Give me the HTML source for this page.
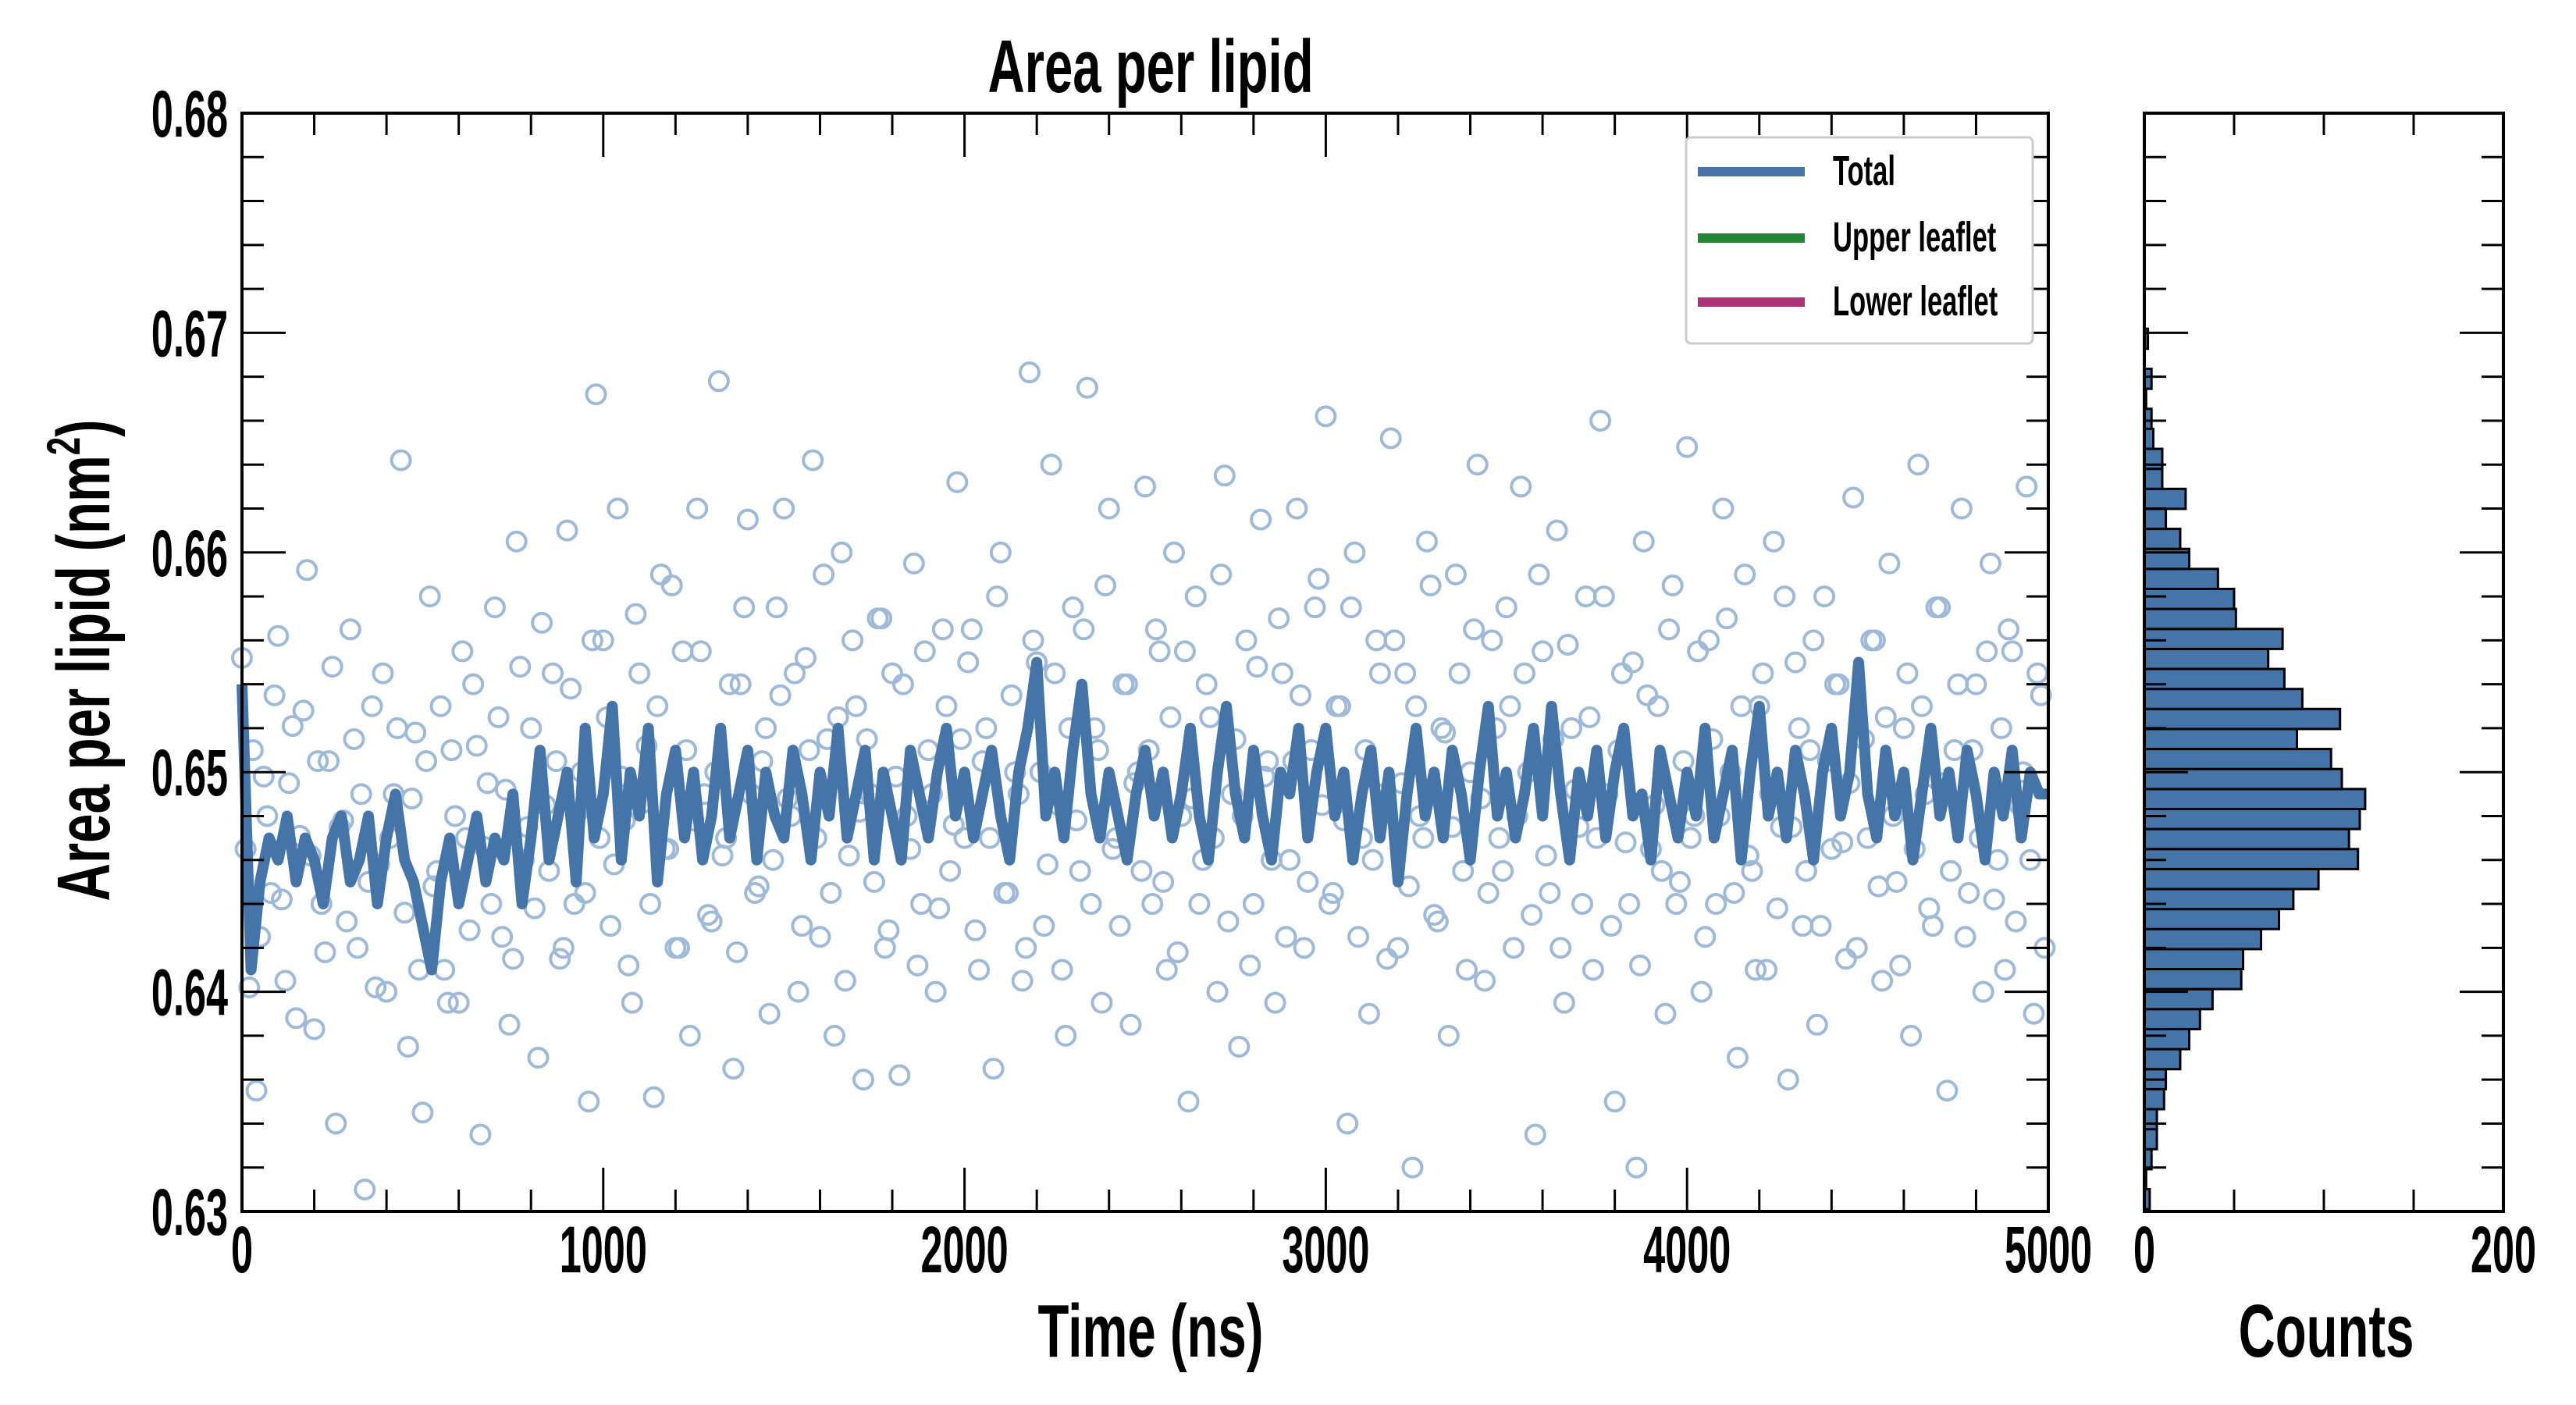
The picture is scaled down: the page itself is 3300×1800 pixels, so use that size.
<!DOCTYPE html>
<html><head><meta charset="utf-8">
<style>
html,body{margin:0;padding:0;background:#fff;}
svg{display:block;}
text{font-family:"Liberation Sans",sans-serif;font-weight:bold;fill:#000;}
</style></head>
<body>
<svg id="chart" width="3300" height="1800" viewBox="0 0 3300 1800" xmlns="http://www.w3.org/2000/svg">
<rect x="0" y="0" width="3300" height="1800" fill="#fff"/>
<g id="scatter"></g>
<g id="lines"></g>
<g id="hist"></g>
<g id="axes"></g>
<g id="legend">
  <rect x="2160" y="176" width="444" height="264" fill="#fff" stroke="#ccc" stroke-width="3" rx="6"/>
  <line x1="2175" y1="220" x2="2312" y2="220" stroke="#4474a8" stroke-width="12"/>
  <text transform="translate(2348,237) scale(0.64,1)" font-size="54">Total</text>
  <line x1="2175" y1="305" x2="2312" y2="305" stroke="#228833" stroke-width="12"/>
  <text transform="translate(2348,322) scale(0.64,1)" font-size="54">Upper leaflet</text>
  <line x1="2175" y1="387" x2="2312" y2="387" stroke="#aa3377" stroke-width="12"/>
  <text transform="translate(2348,404) scale(0.64,1)" font-size="54">Lower leaflet</text>
</g>
<text transform="translate(1474,118) scale(0.68,1)" text-anchor="middle" font-size="96">Area per lipid</text>
<text transform="translate(1474,1738) scale(0.68,1)" text-anchor="middle" font-size="96">Time (ns)</text>
<text transform="translate(2980,1738) scale(0.68,1)" text-anchor="middle" font-size="96">Counts</text>
<text transform="translate(140,846) rotate(-90) scale(0.70,1)" text-anchor="middle" font-size="96">Area per lipid (nm<tspan font-size="60" dy="-38">2</tspan><tspan dy="38">)</tspan></text>
</svg>
<script>
const xTicks=[0,1000,2000,3000,4000,5000];
const yTicks=[0.63,0.64,0.65,0.66,0.67,0.68];
const yTickLabels=["0.63","0.64","0.65","0.66","0.67","0.68"];
const histTicks=[0,200];
const lineStep=25;
const lineValues=[0.654,0.641,0.645,0.647,0.646,0.648,0.645,0.647,0.646,0.644,0.647,0.648,0.645,0.646,0.648,0.644,0.647,0.649,0.646,0.645,
0.643,0.641,0.645,0.647,0.644,0.646,0.648,0.645,0.647,0.646,0.649,0.644,0.647,0.651,0.646,0.648,0.650,0.645,0.652,0.647,
0.649,0.653,0.646,0.650,0.648,0.652,0.645,0.649,0.651,0.647,0.650,0.646,0.648,0.652,0.647,0.649,0.651,0.646,0.650,0.648,
0.647,0.651,0.649,0.646,0.650,0.648,0.652,0.647,0.649,0.651,0.646,0.650,0.648,0.646,0.651,0.649,0.647,0.650,0.652,0.648,
0.650,0.647,0.649,0.651,0.648,0.646,0.650,0.652,0.655,0.648,0.650,0.647,0.651,0.654,0.649,0.647,0.650,0.648,0.646,0.649,
0.651,0.648,0.650,0.647,0.649,0.652,0.648,0.646,0.650,0.653,0.649,0.647,0.651,0.648,0.646,0.650,0.649,0.652,0.647,0.650,
0.652,0.648,0.650,0.646,0.649,0.651,0.647,0.650,0.645,0.649,0.652,0.648,0.650,0.647,0.651,0.649,0.646,0.650,0.653,0.648,
0.650,0.647,0.649,0.652,0.648,0.653,0.649,0.646,0.650,0.648,0.651,0.647,0.650,0.652,0.648,0.649,0.646,0.651,0.649,0.647,
0.650,0.648,0.652,0.647,0.649,0.651,0.646,0.650,0.653,0.648,0.650,0.647,0.651,0.649,0.646,0.650,0.652,0.648,0.650,0.655,
0.649,0.647,0.651,0.648,0.650,0.646,0.649,0.652,0.648,0.650,0.647,0.651,0.649,0.646,0.650,0.648,0.651,0.647,0.650,0.649,0.649];
const scatterStep=20;
const scatterValues=[.6552,.6402,.6355,.6498,.6445,.6562,.6405,.6521,.6471,.6592,.6383,.6440,.6505,.6340,.6478,.6565,.6420,.6310,.6530,.6458,.6400,.6490,.6642,.6375,.6518,
.6345,.6580,.6455,.6410,.6510,.6395,.6470,.6540,.6335,.6495,.6575,.6425,.6385,.6605,.6460,.6520,.6370,.6485,.6545,.6415,.6610,.6440,.6500,.6350,.6672,
.6560,.6430,.6620,.6478,.6395,.6545,.6512,.6352,.6590,.6465,.6420,.6555,.6380,.6620,.6490,.6432,.6678,.6470,.6365,.6540,.6615,.6445,.6505,.6390,.6575,
.6620,.6480,.6400,.6552,.6642,.6425,.6515,.6380,.6600,.6462,.6530,.6360,.6490,.6570,.6420,.6545,.6362,.6480,.6595,.6440,.6510,.6400,.6565,.6455,.6632,
.6470,.6565,.6410,.6520,.6365,.6600,.6445,.6500,.6405,.6682,.6550,.6430,.6640,.6485,.6380,.6575,.6455,.6675,.6520,.6395,.6620,.6470,.6540,.6385,.6500,
.6630,.6440,.6555,.6410,.6600,.6480,.6350,.6580,.6460,.6525,.6400,.6635,.6490,.6375,.6560,.6440,.6615,.6505,.6395,.6545,.6460,.6620,.6420,.6510,.6588,
.6662,.6445,.6530,.6340,.6600,.6470,.6390,.6560,.6490,.6652,.6420,.6545,.6320,.6480,.6605,.6435,.6520,.6380,.6590,.6455,.6500,.6640,.6405,.6560,.6470,
.6575,.6420,.6630,.6500,.6335,.6555,.6445,.6610,.6395,.6520,.6475,.6580,.6410,.6660,.6490,.6350,.6545,.6440,.6320,.6605,.6465,.6530,.6390,.6585,.6450,
.6648,.6480,.6400,.6560,.6440,.6620,.6500,.6370,.6590,.6455,.6530,.6410,.6605,.6475,.6360,.6550,.6430,.6510,.6385,.6580,.6465,.6540,.6415,.6625,.6700,
.6470,.6560,.6405,.6595,.6450,.6520,.6380,.6640,.6490,.6430,.6575,.6355,.6510,.6620,.6445,.6540,.6400,.6595,.6460,.6410,.6555,.6485,.6630,.6390,.6535];
const scatterValues2=[.6465,.6510,.6425,.6480,.6535,.6442,.6495,.6388,.6528,.6462,.6505,.6418,.6548,.6475,.6432,.6515,.6490,.6450,.6402,.6545,.6470,.6520,.6436,.6488,.6410,
.6505,.6448,.6530,.6395,.6480,.6555,.6428,.6512,.6466,.6440,.6525,.6492,.6415,.6548,.6475,.6438,.6568,.6455,.6505,.6420,.6538,.6482,.6445,.6560,.6470,
.6525,.6458,.6498,.6412,.6572,.6486,.6440,.6530,.6465,.6585,.6420,.6510,.6478,.6555,.6435,.6500,.6462,.6540,.6418,.6575,.6490,.6448,.6520,.6460,.6535,
.6488,.6545,.6430,.6510,.6470,.6590,.6445,.6525,.6405,.6560,.6482,.6515,.6450,.6570,.6428,.6498,.6540,.6465,.6412,.6555,.6490,.6438,.6530,.6476,.6515,
.6550,.6428,.6505,.6470,.6580,.6445,.6535,.6490,.6420,.6560,.6500,.6458,.6545,.6410,.6520,.6478,.6565,.6440,.6510,.6585,.6465,.6430,.6540,.6495,.6455,
.6510,.6565,.6450,.6525,.6418,.6555,.6488,.6440,.6540,.6470,.6590,.6432,.6515,.6480,.6412,.6548,.6498,.6460,.6570,.6425,.6505,.6535,.6450,.6575,.6485,
.6440,.6530,.6478,.6575,.6425,.6510,.6460,.6545,.6415,.6560,.6495,.6448,.6530,.6470,.6585,.6432,.6518,.6475,.6545,.6410,.6565,.6488,.6445,.6520,.6455,
.6530,.6480,.6545,.6435,.6590,.6462,.6515,.6420,.6558,.6492,.6440,.6525,.6470,.6580,.6430,.6510,.6468,.6550,.6412,.6535,.6485,.6455,.6565,.6440,.6505,
.6470,.6555,.6425,.6515,.6480,.6570,.6445,.6530,.6462,.6410,.6545,.6490,.6438,.6580,.6475,.6520,.6455,.6560,.6430,.6505,.6540,.6468,.6495,.6420,.6515,
.6560,.6448,.6525,.6480,.6412,.6545,.6465,.6530,.6438,.6575,.6495,.6455,.6540,.6425,.6510,.6470,.6555,.6442,.6520,.6565,.6432,.6500,.6460,.6545,.6420];
const binStart=0.6301;
const binWidth=0.000911;
const binCounts=[3,1,4,7,7,11,12,20,25,31,38,54,55,65,75,83,97,119,114,120,123,110,104,85,109,88,78,69,77,51,50,41,25,20,12,23,10,10,5,4,1,4,0,2];

const NS="http://www.w3.org/2000/svg";
const L=310,R=2624,T=145,B=1552,HL=2747,HR=3207;
const xs=v=>L+(v-0)/(5000-0)*(R-L);
const ys=v=>B-(v-0.63)/(0.68-0.63)*(B-T);
const hs=v=>HL+v/200*(HR-HL);
function mk(tag,attrs,parent){const e=document.createElementNS(NS,tag);for(const k in attrs)e.setAttribute(k,attrs[k]);parent.appendChild(e);return e;}

const sg=document.getElementById('scatter');
scatterValues.forEach((v,i)=>{
  const c=mk('circle',{cx:xs(i*scatterStep),cy:ys(v),r:12,fill:'none',stroke:'#9fbad8','stroke-width':4},sg);
  
  
});
scatterValues2.forEach((v,i)=>{
  const c=mk('circle',{cx:xs(i*scatterStep+10),cy:ys(v),r:12,fill:'none',stroke:'#9fbad8','stroke-width':4},sg);
  
  
});
const lg=document.getElementById('lines');
const pts=lineValues.map((v,i)=>xs(i*lineStep).toFixed(1)+','+ys(v).toFixed(1)).join(' ');
const pl=mk('polyline',{points:pts,fill:'none',stroke:'#4474a8','stroke-width':14,'stroke-linejoin':'round'},lg);



const hg=document.getElementById('hist');
binCounts.forEach((c,i)=>{
  const y0=ys(binStart+i*binWidth), y1=ys(binStart+(i+1)*binWidth);
  if(c<=0)return;
  const r=mk('rect',{x:HL,y:y1,width:hs(c)-HL,height:y0-y1,fill:'#4474a8',stroke:'#000','stroke-width':3},hg);
  
  
});

const ag=document.getElementById('axes');
function frame(x0,x1){mk('rect',{x:x0,y:T,width:x1-x0,height:B-T,fill:'none',stroke:'#000','stroke-width':4},ag);}
frame(L,R);frame(HL,HR);
for(let v=0;v<=5000;v+=200){const x=xs(v),len=(v%1000===0)?56:28;
  mk('line',{x1:x,y1:B,x2:x,y2:B-len,stroke:'#000','stroke-width':3},ag);
  mk('line',{x1:x,y1:T,x2:x,y2:T+len,stroke:'#000','stroke-width':3},ag);}
for(let k=0;k<=25;k++){const v=0.63+k*0.002,y=ys(v),len=(k%5===0)?56:28;
  mk('line',{x1:L,y1:y,x2:L+len,y2:y,stroke:'#000','stroke-width':3},ag);
  mk('line',{x1:R,y1:y,x2:R-len,y2:y,stroke:'#000','stroke-width':3},ag);
  mk('line',{x1:HL,y1:y,x2:HL+len,y2:y,stroke:'#000','stroke-width':3},ag);
  mk('line',{x1:HR,y1:y,x2:HR-len,y2:y,stroke:'#000','stroke-width':3},ag);}
for(let v=0;v<=200;v+=50){const x=hs(v),len=(v%200===0)?56:28;
  mk('line',{x1:x,y1:B,x2:x,y2:B-len,stroke:'#000','stroke-width':3},ag);
  mk('line',{x1:x,y1:T,x2:x,y2:T+len,stroke:'#000','stroke-width':3},ag);}
xTicks.forEach(v=>{const t=mk('text',{transform:`translate(${xs(v)},1630) scale(0.6,1)`,'text-anchor':'middle','font-size':84},ag);t.textContent=String(v);
  
  });
yTicks.forEach((v,i)=>{const t=mk('text',{transform:`translate(292,${ys(v)+30}) scale(0.6,1)`,'text-anchor':'end','font-size':84},ag);t.textContent=yTickLabels[i];
  
  });
histTicks.forEach(v=>{const t=mk('text',{transform:`translate(${hs(v)},1630) scale(0.6,1)`,'text-anchor':'middle','font-size':84},ag);t.textContent=String(v);
  
  });
</script>
</body></html>
